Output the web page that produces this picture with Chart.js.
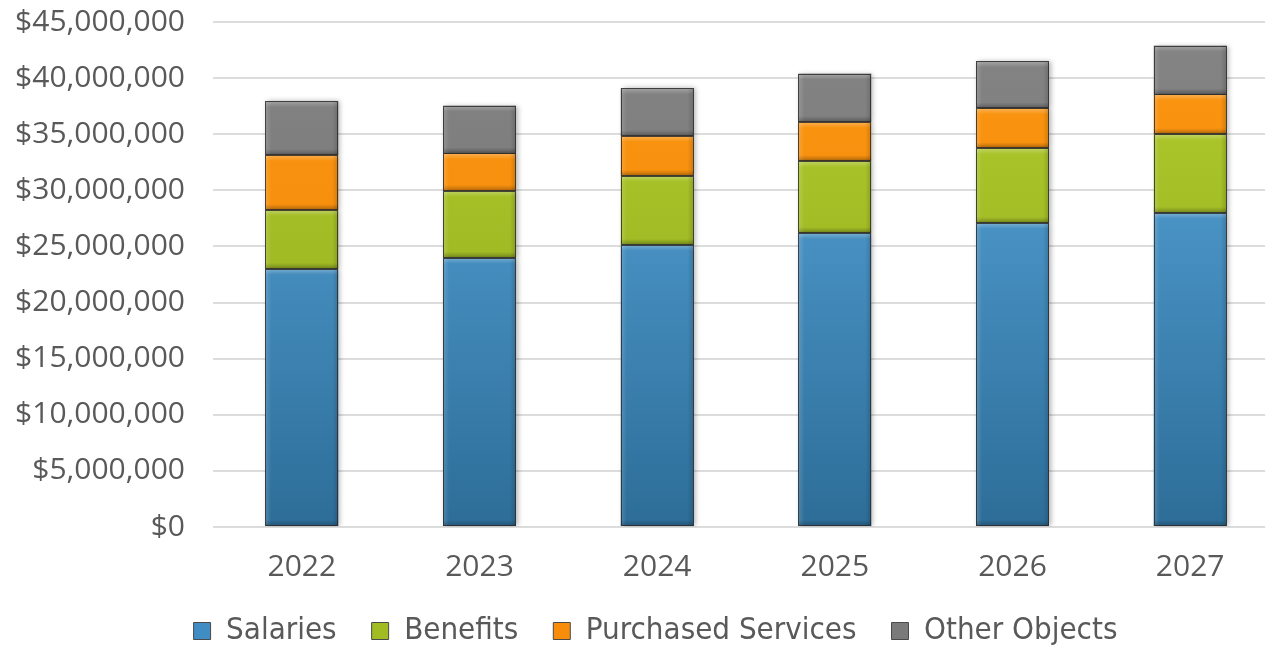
<!DOCTYPE html>
<html>
<head>
<meta charset="utf-8">
<script src="https://cdn.jsdelivr.net/npm/chart.js@4.4.1/dist/chart.umd.min.js"></script>
<style>
  html, body { margin: 0; padding: 0; background: #ffffff; overflow: hidden; }
  #wrap { width: 1280px; height: 646px; position: relative; }
</style>
</head>
<body>
<div id="wrap"><canvas id="budget" width="1280" height="646"></canvas></div>
<script>
// Budget by object, stacked per fiscal year
const years = ['2022', '2023', '2024', '2025', '2026', '2027'];
const salaries          = [23000000, 24000000, 25150000, 26200000, 27100000, 28000000];
const benefits          = [ 5250000,  5950000,  6150000,  6400000,  6650000,  7000000];
const purchasedServices = [ 4900000,  3350000,  3550000,  3500000,  3550000,  3550000];
const otherObjects      = [ 4800000,  4250000,  4250000,  4300000,  4200000,  4350000];
const yTickValues = [0, 5000000, 10000000, 15000000, 20000000, 25000000, 30000000, 35000000, 40000000, 45000000];

const TEXT = '#595959';
const NARROW = '"DejaVu Sans Condensed", "Roboto", sans-serif';
const SANS = '"Open Sans", sans-serif';

// vertical gradient across the plot area for each series
function grad(top, bottom) {
  return (ctx) => {
    const area = ctx.chart.chartArea;
    if (!area) return bottom;
    const g = ctx.chart.ctx.createLinearGradient(0, area.top, 0, area.bottom);
    g.addColorStop(0, top);
    g.addColorStop(1, bottom);
    return g;
  };
}

const legendColors = ['#3f8dc3', '#a0bc22', '#f78d0a', '#7a7a7a'];

// place the legend row near the bottom edge, centred under the figure
const legendShift = {
  id: 'legendShift',
  afterLayout(chart) {
    const lg = chart.legend;
    if (!lg) return;
    lg.left += 16; lg.right += 16;
    lg.top = 580.5; lg.bottom = chart.height;
  }
};

// soft shadow beside each bar, plus a bevelled edge on every segment
const bevel = {
  id: 'bevel',
  beforeDatasetsDraw(chart) {
    const c = chart.ctx;
    c.save();
    c.shadowColor = 'rgba(0,0,0,0.30)';
    c.shadowBlur = 5;
    c.shadowOffsetX = 2;
    c.shadowOffsetY = 0;
  },
  afterDatasetsDraw(chart) {
    const c = chart.ctx;
    c.restore();
    const e = 6;
    chart.data.datasets.forEach((ds, i) => {
      const meta = chart.getDatasetMeta(i);
      meta.data.forEach((bar) => {
        const l = bar.x - bar.width / 2, r = bar.x + bar.width / 2;
        const t = Math.min(bar.y, bar.base), b = Math.max(bar.y, bar.base);
        c.save();
        let g = c.createLinearGradient(0, t, 0, t + e);
        g.addColorStop(0, 'rgba(255,255,255,0.28)'); g.addColorStop(1, 'rgba(255,255,255,0)');
        c.fillStyle = g; c.fillRect(l, t, r - l, e);
        g = c.createLinearGradient(l, 0, l + e, 0);
        g.addColorStop(0, 'rgba(255,255,255,0.16)'); g.addColorStop(1, 'rgba(255,255,255,0)');
        c.fillStyle = g; c.fillRect(l, t, e, b - t);
        g = c.createLinearGradient(r - e, 0, r, 0);
        g.addColorStop(0, 'rgba(0,0,0,0)'); g.addColorStop(1, 'rgba(0,0,0,0.16)');
        c.fillStyle = g; c.fillRect(r - e, t, e, b - t);
        g = c.createLinearGradient(0, b - e, 0, b);
        g.addColorStop(0, 'rgba(0,0,0,0)'); g.addColorStop(1, 'rgba(0,0,0,0.24)');
        c.fillStyle = g; c.fillRect(l, b - e, r - l, e);
        c.strokeStyle = 'rgba(45,45,45,0.85)';
        c.lineWidth = 1;
        c.strokeRect(Math.round(l) + 0.5, Math.round(t) + 0.5, Math.round(r - l) - 1, Math.round(b - t) - 1);
        c.restore();
      });
    });
  }
};

const common = { stack: 'total', borderWidth: 0, barPercentage: 0.41, categoryPercentage: 1.0 };

new Chart(document.getElementById('budget'), {
  type: 'bar',
  data: {
    labels: years,
    datasets: [
      Object.assign({ label: 'Salaries', data: salaries, backgroundColor: grad('#5aaae0', '#2d6d98') }, common),
      Object.assign({ label: 'Benefits', data: benefits, backgroundColor: grad('#b2cd2e', '#8da51a') }, common),
      Object.assign({ label: 'Purchased Services', data: purchasedServices, backgroundColor: grad('#fb9612', '#f08405') }, common),
      Object.assign({ label: 'Other Objects', data: otherObjects, backgroundColor: grad('#858585', '#6c6c6c') }, common)
    ]
  },
  plugins: [bevel, legendShift],
  options: {
    responsive: false,
    animation: false,
    layout: { padding: { top: 22, left: 0, right: 1, bottom: 0 } },
    plugins: {
      tooltip: { enabled: false },
      legend: {
        position: 'bottom',
        maxHeight: 40,
        labels: {
          color: TEXT,
          font: { family: NARROW, size: 31 },
          boxWidth: 17,
          boxHeight: 17,
          padding: 35,
          generateLabels(chart) {
            return chart.data.datasets.map((ds, i) => ({
              text: ds.label,
              fillStyle: legendColors[i],
              strokeStyle: '#4a4a4a',
              lineWidth: 1,
              fontColor: TEXT,
              datasetIndex: i,
              hidden: false
            }));
          }
        }
      }
    },
    scales: {
      x: {
        stacked: true,
        clip: false,
        grid: { display: false, drawTicks: false },
        border: { display: false },
        ticks: { color: TEXT, font: { family: SANS, size: 30 }, padding: 22 },
        afterFit(s) { s.height = 79; }
      },
      y: {
        stacked: true,
        clip: false,
        min: 0,
        max: 45000000,
        afterBuildTicks(s) { s.ticks = yTickValues.map(v => ({ value: v })); },
        grid: { color: '#dcdcdc', lineWidth: 2, drawTicks: false },
        border: { display: false },
        ticks: {
          color: TEXT,
          font: { family: SANS, size: 30 },
          padding: 28,
          callback: (v) => '$' + Number(v).toLocaleString('en-US')
        },
        afterFit(s) { s.width = 213; s.paddingTop = 0; s.paddingBottom = 0; }
      }
    }
  }
});
</script>
</body>
</html>
